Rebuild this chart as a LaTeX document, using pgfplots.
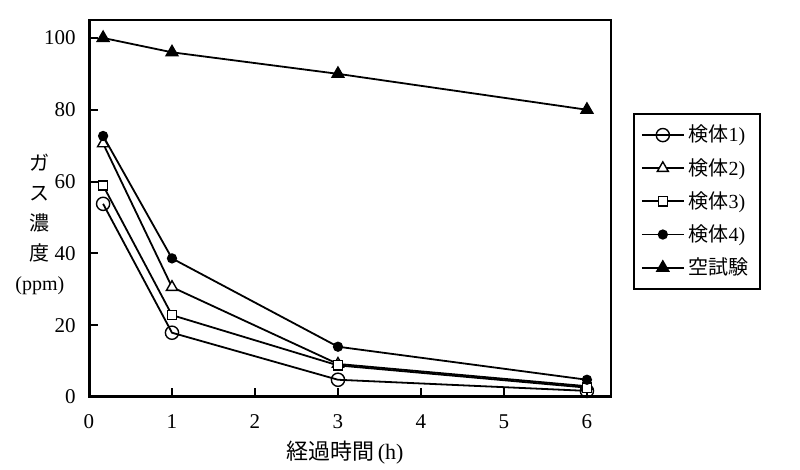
\documentclass[border=0pt]{standalone}
\usepackage{fontspec}
\setmainfont{Liberation Serif}
\newfontfamily\cjk{Noto Sans CJK JP}
\usepackage{pgfplots}
\pgfplotsset{compat=1.18}
\begin{document}
\fontsize{10.5}{12}\selectfont
\begin{tikzpicture}
\useasboundingbox (0,0) rectangle (400pt,235pt);
\begin{axis}[
  at={(44.5pt,36.5pt)}, anchor=south west,
  scale only axis, width=261pt, height=188.5pt,
  xmin=0, xmax=6.29, ymin=0, ymax=105,
  xtick={0,1,2,3,4,5,6}, ytick={0,20,40,60,80,100},
  xtick pos=bottom, ytick pos=left,
  xtick align=inside, ytick align=inside,
  major tick length=4.5pt,
  every tick/.style={black, line width=0.9pt},
  axis line style={line width=1pt},
  /pgf/number format/assume math mode=true,
  tick label style={font=\fontsize{10.5}{12}\selectfont},
  yticklabel style={xshift=-3pt},
  xticklabel style={yshift=-5pt},
  every axis y label/.style={at={(axis description cs:-0.094,0.459)}, anchor=center, align=center, font=\fontsize{10}{12}\selectfont},
  every axis x label/.style={at={(axis description cs:0.49,0)}, anchor=center, yshift=-28pt, font=\fontsize{11}{13}\selectfont},
  ylabel={{\cjk ガ}\\[3pt]{\cjk ス}\\[3pt]{\cjk 濃}\\[3pt]{\cjk 度}\\[3pt](ppm)},
  xlabel={{\cjk 経過時間}\,(h)},
  legend style={at={(1.042,0.753)}, anchor=north west, draw=black, line width=1pt,
    font=\fontsize{10}{12}\selectfont, row sep=2.6pt, inner xsep=3.5pt, inner ysep=3.5pt},
  legend cell align=left,
  legend image code/.code={\draw[mark repeat=2,mark phase=2] plot coordinates {(0pt,0pt) (10.5pt,0pt) (21pt,0pt)};},
  every axis plot/.append style={black, line width=0.9pt},
]
\addplot[mark=o, mark size=3.3pt, mark options={fill=white, line width=0.7pt}] coordinates {(0.17,53.8) (1,17.9) (3,4.8) (6,1.7)};
\addlegendentry{{\cjk 検体}1)}
\addplot[mark=triangle*, mark size=3.2pt, mark options={fill=white, line width=0.7pt}] coordinates {(0.17,70.6) (1,30.6) (3,9.2) (6,3.0)};
\addlegendentry{{\cjk 検体}2)}
\addplot[mark=square*, mark size=2.3pt, mark options={fill=white, line width=0.7pt}] coordinates {(0.17,58.9) (1,22.8) (3,8.8) (6,2.6)};
\addlegendentry{{\cjk 検体}3)}
\addplot[mark=*, mark size=2.1pt, mark options={fill=black}] coordinates {(0.17,72.7) (1,38.6) (3,14.0) (6,4.8)};
\addlegendentry{{\cjk 検体}4)}
\addplot[mark=triangle*, mark size=3.2pt, mark options={fill=black}] coordinates {(0.17,100) (1,96) (3,90) (6,80)};
\addlegendentry{{\cjk 空試験}}
\draw[line width=1.6pt] (rel axis cs:0,1) -- (rel axis cs:0,0) -- (rel axis cs:1,0);
\pgfplotsinvokeforeach{1,2,3,4,5,6}{\draw[line width=1pt] (axis cs:#1,0) -- ++(0pt,4.5pt);}
\pgfplotsinvokeforeach{20,40,60,80,100}{\draw[line width=1pt] (axis cs:0,#1) -- ++(4.5pt,0pt);}
\end{axis}
\end{tikzpicture}
\end{document}
